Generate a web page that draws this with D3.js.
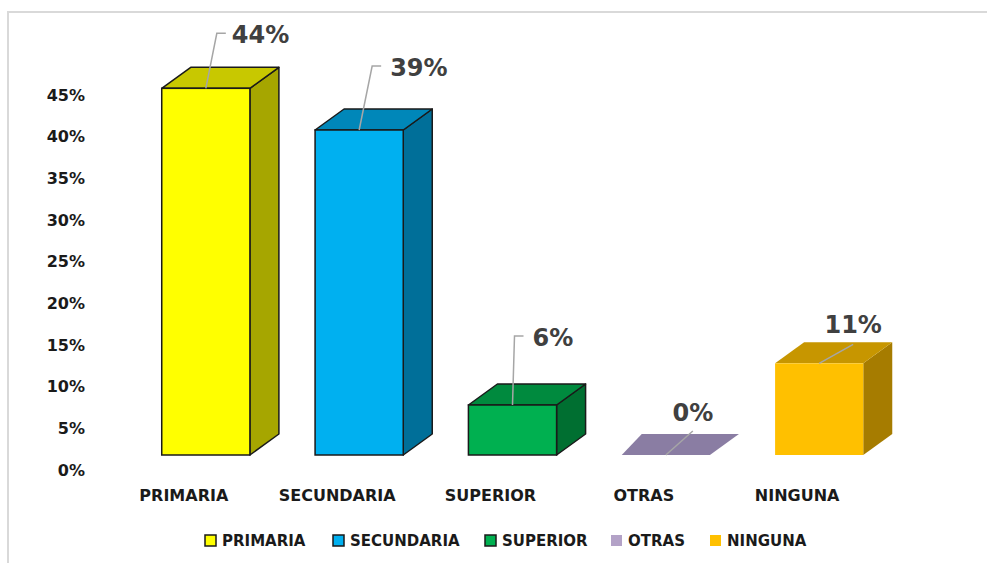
<!DOCTYPE html>
<html>
<head>
<meta charset="utf-8">
<script src="https://cdn.jsdelivr.net/npm/d3@7"></script>
<style>
  html, body { margin: 0; padding: 0; background: #ffffff; }
  svg { display: block; }
  text { font-family: "DejaVu Sans", Verdana, sans-serif; font-weight: bold; }
</style>
</head>
<body>
<svg id="chart" width="987" height="563"></svg>
<script>
// Nivel de instrucción
const categories = ["PRIMARIA", "SECUNDARIA", "SUPERIOR", "OTRAS", "NINGUNA"];
const values = [44, 39, 6, 0, 11];
const yTicks = [0, 5, 10, 15, 20, 25, 30, 35, 40, 45];

// Face colours per category: front, top, side
const frontColors = ["#ffff00", "#00b0f0", "#00b050", "#8a7da3", "#ffc000"];
const topColors   = ["#c8c800", "#0087b9", "#008a3e", "#8a7da3", "#c79600"];
const sideColors  = ["#a6a600", "#006f99", "#006f31", "#8a7da3", "#a67c00"];
const legendColors = ["#ffff00", "#00b0f0", "#00b050", "#b3a2c7", "#ffc000"];
const outlined = [true, true, true, false, false];

// Leader-line routes for the value labels, relative to the front-top centre of each bar
const labelRoutes = [
  { pts: [[0, 0], [11, -55], [20, -55]], tx: 26, ty: -45, anchor: "start" },
  { pts: [[0, 0], [13, -64], [22, -64]], tx: 31, ty: -54, anchor: "start" },
  { pts: [[0, 0], [2, -69], [11, -69]], tx: 20, ty: -59, anchor: "start" },
  { pts: [[0, 0], [27, -24]], tx: 27, ty: -34, anchor: "middle" },
  { pts: [[0, 0], [34, -19]], tx: 34, ty: -30, anchor: "middle" }
];

const svg = d3.select("#chart");

// frame
svg.append("path")
  .attr("d", "M8,563 V12 H987")
  .attr("fill", "none")
  .attr("stroke", "#d9d9d9")
  .attr("stroke-width", 2);

const y = d3.scaleLinear().domain([0, 45]).range([470, 95]);
const floorShift = 15;          // front face sits ahead of the back wall
const depth = { dx: 29, dy: -21 };

const x = d3.scaleBand()
  .domain(categories)
  .range([128, 897])
  .paddingInner(0.425)
  .paddingOuter(0.22);

// Y axis labels
const yAxis = d3.axisLeft(y)
  .tickValues(yTicks)
  .tickFormat(d => d + "%")
  .tickSize(0)
  .tickPadding(0);
const yg = svg.append("g").attr("transform", "translate(85,0)").call(yAxis);
yg.select(".domain").remove();
yg.selectAll("text")
  .attr("font-size", 16)
  .attr("font-family", "DejaVu Sans, sans-serif")
  .attr("font-weight", "bold")
  .attr("fill", "#1a1a1a");

// Bars
const bars = svg.append("g");
categories.forEach((c, i) => {
  const x0 = x(c), x1 = x(c) + x.bandwidth();
  const yb = y(0) - floorShift;
  const yt = y(values[i]) - floorShift;
  const g = bars.append("g");
  const stroke = outlined[i] ? "#1a1a1a" : "none";
  const sw = outlined[i] ? 1.5 : 0;
  if (values[i] === 0) {
    g.append("path")
      .attr("d", `M${x0},${yb} L${x1},${yb} L${x1 + depth.dx},${yb + depth.dy} L${x0 + depth.dx - 9},${yb + depth.dy} Z`)
      .attr("fill", frontColors[i]);
    return;
  }
  // side
  g.append("path")
    .attr("d", `M${x1},${yt} L${x1 + depth.dx},${yt + depth.dy} L${x1 + depth.dx},${yb + depth.dy} L${x1},${yb} Z`)
    .attr("fill", sideColors[i]).attr("stroke", stroke).attr("stroke-width", sw).attr("stroke-linejoin", "round");
  // top
  g.append("path")
    .attr("d", `M${x0},${yt} L${x0 + depth.dx},${yt + depth.dy} L${x1 + depth.dx},${yt + depth.dy} L${x1},${yt} Z`)
    .attr("fill", topColors[i]).attr("stroke", stroke).attr("stroke-width", sw).attr("stroke-linejoin", "round");
  // front
  g.append("rect")
    .attr("x", x0).attr("y", yt)
    .attr("width", x.bandwidth()).attr("height", yb - yt)
    .attr("fill", frontColors[i]).attr("stroke", stroke).attr("stroke-width", sw);
});

// Value labels with leader lines
const labels = svg.append("g");
categories.forEach((c, i) => {
  const ax = x(c) + x.bandwidth() / 2;
  const ay = y(values[i]) - floorShift;
  const r = labelRoutes[i];
  labels.append("path")
    .attr("d", d3.line()(r.pts.map(p => [ax + p[0], ay + p[1]])))
    .attr("fill", "none")
    .attr("stroke", "#a6a6a6")
    .attr("stroke-width", 1.5);
  labels.append("text")
    .attr("x", ax + r.tx)
    .attr("y", ay + r.ty)
    .attr("text-anchor", r.anchor)
    .attr("font-size", 24)
    .attr("fill", "#404040")
    .text(values[i] + "%");
});

// Category labels
svg.append("g").selectAll("text")
  .data(categories)
  .join("text")
  .attr("x", d => x(d) + x.bandwidth() / 2 - 22)
  .attr("y", 501)
  .attr("text-anchor", "middle")
  .attr("font-size", 16)
  .attr("fill", "#1a1a1a")
  .text(d => d);

// Legend
const legendX = [205, 333, 485, 611, 710];
const legend = svg.append("g");
categories.forEach((c, i) => {
  legend.append("rect")
    .attr("x", legendX[i]).attr("y", 535)
    .attr("width", 11).attr("height", 11)
    .attr("fill", legendColors[i])
    .attr("stroke", outlined[i] ? "#1a1a1a" : "none")
    .attr("stroke-width", 1.5);
  legend.append("text")
    .attr("x", legendX[i] + 17).attr("y", 546)
    .attr("font-size", 15)
    .attr("fill", "#1a1a1a")
    .text(c);
});
</script>
</body>
</html>
